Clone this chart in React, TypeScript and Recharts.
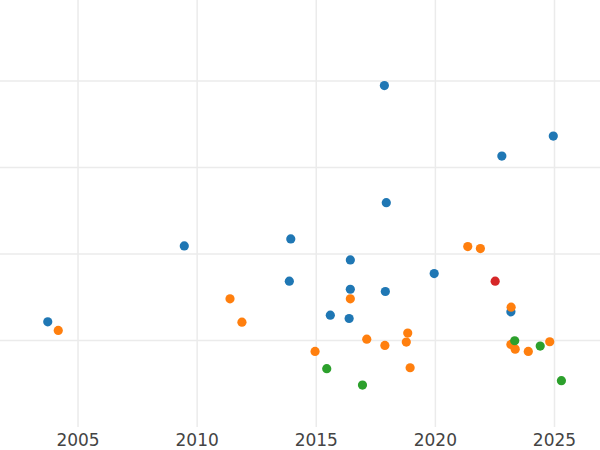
import { ScatterChart, Scatter, XAxis, YAxis, CartesianGrid } from "recharts";

// series values (y axis is unlabelled, gridlines at 1..4)
const blueYears = [2017.86, 2024.95, 2022.79, 2017.94, 2009.46, 2013.93, 2016.43, 2019.95, 2013.87, 2016.43, 2017.9, 2023.17, 2015.59, 2016.38, 2003.73];
const blueValues = [3.946, 3.362, 3.131, 2.593, 2.093, 2.174, 1.931, 1.773, 1.685, 1.592, 1.566, 1.331, 1.292, 1.254, 1.216];

const orangeYears = [2021.36, 2021.89, 2011.38, 2016.43, 2023.18, 2011.88, 2004.17, 2018.84, 2017.12, 2018.78, 2017.88, 2023.17, 2023.35, 2024.8, 2023.9, 2014.95, 2018.94];
const orangeValues = [2.085, 2.062, 1.481, 1.481, 1.385, 1.211, 1.116, 1.085, 1.015, 0.981, 0.943, 0.954, 0.9, 0.985, 0.873, 0.873, 0.685];

const greenYears = [2023.33, 2024.4, 2015.44, 2016.94, 2025.29];
const greenValues = [0.997, 0.935, 0.674, 0.485, 0.535];

const redYears = [2022.51];
const redValues = [1.685];

const xTicks = [2005, 2010, 2015, 2020, 2025];
const yTicks = [1, 2, 3, 4];

const toPoints = (xs: number[], ys: number[]) => xs.map((x, i) => ({ x, y: ys[i] }));

const dot = (color: string) => (props: any) => (
  <circle cx={props.cx} cy={props.cy} r={4.6} fill={color} />
);

export default function App() {
  return (
    <div style={{ position: "absolute", left: 0, top: 0, width: 600, height: 450, background: "#fff" }}>
      <ScatterChart width={600} height={450} margin={{ top: 0, right: 0, left: 0, bottom: 0 }}>
        <CartesianGrid stroke="#ebebeb" strokeWidth={1.5} syncWithTicks />
        <XAxis
          type="number"
          dataKey="x"
          domain={[2001.725, 2026.91]}
          ticks={xTicks}
          allowDataOverflow
          height={23}
          axisLine={false}
          tickLine={false}
          tickMargin={1}
          tick={{ fill: "#444", fontSize: 17, fontFamily: "DejaVu Sans" }}
        />
        <YAxis
          type="number"
          dataKey="y"
          domain={[0, 4.935]}
          ticks={yTicks}
          allowDataOverflow
          width={0}
          axisLine={false}
          tickLine={false}
          tick={{ fill: "transparent", fontSize: 1 }}
        />
        <Scatter data={toPoints(blueYears, blueValues)} shape={dot("#1f77b4")} isAnimationActive={false} />
        <Scatter data={toPoints(orangeYears, orangeValues)} shape={dot("#ff7f0e")} isAnimationActive={false} />
        <Scatter data={toPoints(greenYears, greenValues)} shape={dot("#2ca02c")} isAnimationActive={false} />
        <Scatter data={toPoints(redYears, redValues)} shape={dot("#d62728")} isAnimationActive={false} />
      </ScatterChart>
    </div>
  );
}
